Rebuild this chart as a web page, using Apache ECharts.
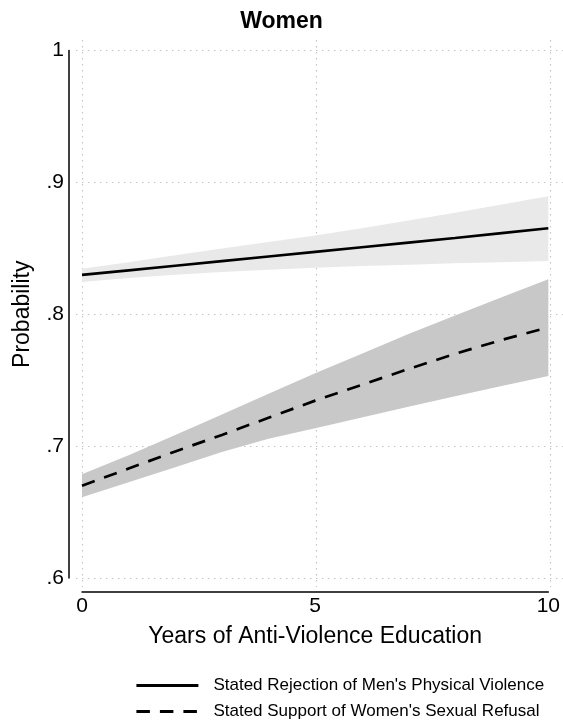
<!DOCTYPE html>
<html>
<head>
<meta charset="utf-8">
<script src="https://cdn.jsdelivr.net/npm/echarts@6/dist/echarts.min.js"></script>
<style>
  html, body { margin: 0; padding: 0; background: #fff; }
  #chart { width: 563px; height: 727px; }
</style>
</head>
<body>
<div id="chart"></div>
<script>
// Predicted probabilities with 95% confidence bands, by years of anti-violence education
const years = [0, 1, 2, 3, 4, 5, 6, 7, 8, 9, 10];

const rejectionMean  = [0.8298, 0.8333, 0.8368, 0.8403, 0.8438, 0.8473, 0.8508, 0.8543, 0.8578, 0.8615, 0.8652];
const rejectionLower = [0.8245, 0.8275, 0.8300, 0.8320, 0.8338, 0.8353, 0.8365, 0.8376, 0.8386, 0.8395, 0.8404];
const rejectionUpper = [0.8345, 0.8395, 0.8447, 0.8498, 0.8548, 0.8598, 0.8652, 0.8710, 0.8770, 0.8832, 0.8895];

const refusalMean  = [0.6700, 0.6830, 0.6960, 0.7085, 0.7215, 0.7345, 0.7465, 0.7585, 0.7700, 0.7805, 0.7900];
const refusalLower = [0.6613, 0.6727, 0.6840, 0.6955, 0.7055, 0.7136, 0.7218, 0.7298, 0.7378, 0.7455, 0.7532];
const refusalUpper = [0.6787, 0.6930, 0.7085, 0.7240, 0.7398, 0.7553, 0.7700, 0.7850, 0.7990, 0.8128, 0.8265];

const yTickValues = [0.6, 0.7, 0.8, 0.9, 1];
const yTickLabels = ['.6', '.7', '.8', '.9', '1'];

const seriesNames = [
  "Stated Rejection of Men's Physical Violence",
  "Stated Support of Women's Sexual Refusal"
];

const FONT = 'Liberation Sans';
const dashPattern = [13.5, 10];

function bandSeries(lower, upper, color) {
  return {
    type: 'custom',
    xAxisIndex: 1,
    yAxisIndex: 1,
    silent: true,
    z: 1,
    data: years.map((x, i) => [x, lower[i], upper[i]]),
    encode: { x: 0, y: [1, 2] },
    renderItem: function (params, api) {
      if (params.dataIndex !== 0) return null;
      const pts = [];
      for (let i = 0; i < years.length; i++) pts.push(api.coord([years[i], upper[i]]));
      for (let i = years.length - 1; i >= 0; i--) pts.push(api.coord([years[i], lower[i]]));
      return { type: 'polygon', shape: { points: pts }, style: { fill: color, stroke: null } };
    }
  };
}

function lineSeries(name, values, type) {
  return {
    name: name,
    type: 'line',
    xAxisIndex: 1,
    yAxisIndex: 1,
    data: years.map((x, i) => [x, values[i]]),
    symbol: 'none',
    showSymbol: false,
    z: 3,
    lineStyle: { color: '#000', width: 2.7, type: type, cap: 'butt' },
    itemStyle: { color: '#000' }
  };
}

const gridStyle = { color: '#c2c2c2', width: 1.1, type: [1.4, 4.6] };

const chart = echarts.init(document.getElementById('chart'), null, { renderer: 'canvas' });
chart.setOption({
  animation: false,
  backgroundColor: '#fff',
  textStyle: { fontFamily: FONT },
  title: {
    text: 'Women',
    left: 'center',
    top: 5,
    textStyle: { fontFamily: FONT, fontSize: 23, fontWeight: 'bold', color: '#000' }
  },
  legend: {
    data: seriesNames,
    orient: 'vertical',
    left: 135,
    top: 677,
    padding: 0,
    itemWidth: 62,
    itemHeight: 17,
    itemGap: 9,
    selectedMode: false,
    itemStyle: { opacity: 0, borderWidth: 0 },
    lineStyle: { width: 2.8 },
    textStyle: { fontFamily: FONT, fontSize: 17, color: '#000', padding: [0, 0, 0, 10] }
  },
  grid: [
    // dotted background grid (spans slightly past the data range)
    { left: 76, right: 0, top: 40, bottom: 140 },
    // data area
    { left: 82, right: 13, top: 50.5, bottom: 149 }
  ],
  xAxis: [
    {
      gridIndex: 0, type: 'value', min: -0.1282, max: 10.278, splitNumber: 2,
      axisLine: { show: false }, axisTick: { show: false }, axisLabel: { show: false },
      splitLine: { show: true, showMinLine: false, showMaxLine: false, lineStyle: gridStyle }
    },
    {
      gridIndex: 1, type: 'value', min: 0, max: 10, interval: 5, offset: 14,
      axisLine: { show: true, onZero: false, lineStyle: { color: '#000', width: 1.5 } },
      axisTick: { show: false },
      axisLabel: { margin: 4, fontSize: 21, color: '#000', fontFamily: FONT },
      splitLine: { show: false },
      name: 'Years of Anti-Violence Education',
      nameLocation: 'middle',
      nameGap: 33,
      nameTextStyle: { fontSize: 23, color: '#000', fontFamily: FONT }
    }
  ],
  yAxis: [
    {
      gridIndex: 0, type: 'value', min: 0.59318, max: 1.00796, splitNumber: 5,
      axisLine: { show: false }, axisTick: { show: false }, axisLabel: { show: false },
      splitLine: { show: true, showMinLine: false, showMaxLine: false, lineStyle: gridStyle }
    },
    {
      gridIndex: 1, type: 'value', min: 0.6, max: 1, interval: 0.1, offset: 13,
      axisLine: { show: true, onZero: false, lineStyle: { color: '#000', width: 1.5 } },
      axisTick: { show: false },
      axisLabel: {
        margin: 5, fontSize: 21, color: '#000', fontFamily: FONT,
        formatter: function (v) {
          for (let i = 0; i < yTickValues.length; i++) {
            if (Math.abs(v - yTickValues[i]) < 1e-6) return yTickLabels[i];
          }
          return '';
        }
      },
      splitLine: { show: false },
      name: 'Probability',
      nameLocation: 'middle',
      nameRotate: 90,
      nameGap: 35,
      nameTextStyle: { fontSize: 23, color: '#000', fontFamily: FONT }
    }
  ],
  series: [
    bandSeries(rejectionLower, rejectionUpper, '#e9e9e9'),
    bandSeries(refusalLower, refusalUpper, '#c8c8c8'),
    lineSeries(seriesNames[0], rejectionMean, 'solid'),
    lineSeries(seriesNames[1], refusalMean, dashPattern)
  ]
});
</script>
</body>
</html>
